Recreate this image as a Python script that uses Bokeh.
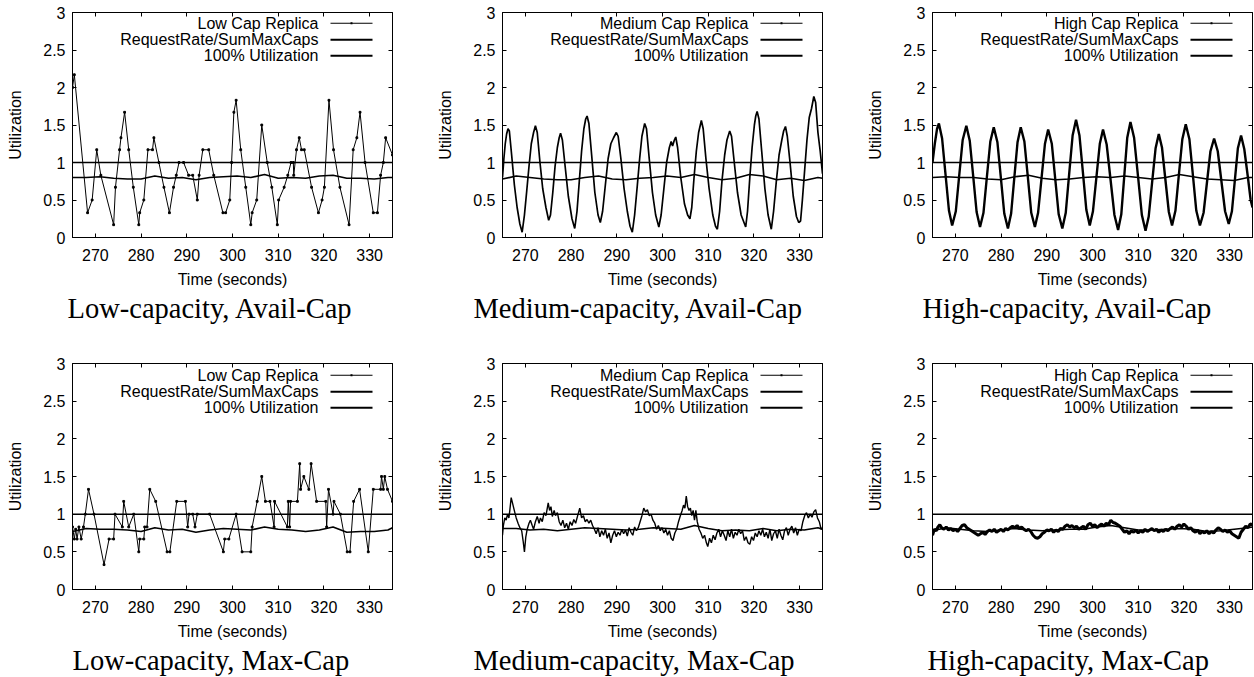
from bokeh.plotting import figure
from bokeh.models import (Range1d, LinearAxis, Label, BoxAnnotation, Span, Title,
                          NumeralTickFormatter, ColumnDataSource)
from bokeh.layouts import row, column
from bokeh.embed import file_html
from bokeh.resources import INLINE

# ---------------- data ----------------
x_ticks = [270, 280, 290, 300, 310, 320, 330]
y_ticks = [0, 0.5, 1, 1.5, 2, 2.5, 3]
x_lo, x_hi = 265, 335
y_lo, y_hi = 0, 3
full_util = 1.0

series_names = ["RequestRate/SumMaxCaps", "100% Utilization"]
replica_names = ["Low Cap Replica", "Medium Cap Replica", "High Cap Replica"]
captions_top = ["Low-capacity, Avail-Cap", "Medium-capacity, Avail-Cap", "High-capacity, Avail-Cap"]
captions_bottom = ["Low-capacity, Max-Cap", "Medium-capacity, Max-Cap", "High-capacity, Max-Cap"]

rr_t = [265, 268, 271, 274, 277, 280, 283, 286, 289, 292, 295, 298, 301,
        304, 307, 310, 313, 316, 319, 322, 325, 328, 331, 334, 335]
rr_low_avail = [0.80, 0.80, 0.81, 0.79, 0.78, 0.78, 0.82, 0.79, 0.80, 0.77, 0.80, 0.81, 0.82,
                0.80, 0.84, 0.79, 0.80, 0.79, 0.82, 0.83, 0.79, 0.79, 0.78, 0.80, 0.80]
rr_med_avail = [0.78, 0.82, 0.80, 0.78, 0.77, 0.77, 0.80, 0.82, 0.78, 0.77, 0.79, 0.80, 0.82,
                0.80, 0.84, 0.80, 0.77, 0.79, 0.84, 0.82, 0.77, 0.79, 0.76, 0.80, 0.79]
rr_high_avail = [0.80, 0.81, 0.80, 0.80, 0.78, 0.77, 0.81, 0.83, 0.79, 0.77, 0.78, 0.80, 0.81,
                 0.80, 0.82, 0.80, 0.78, 0.80, 0.84, 0.81, 0.78, 0.77, 0.76, 0.80, 0.80]
rr_low_max = [0.77, 0.81, 0.80, 0.80, 0.79, 0.77, 0.82, 0.79, 0.80, 0.76, 0.79, 0.81, 0.80,
              0.79, 0.83, 0.80, 0.79, 0.77, 0.79, 0.83, 0.76, 0.77, 0.77, 0.79, 0.82]
rr_med_max = [0.81, 0.81, 0.79, 0.80, 0.78, 0.80, 0.82, 0.81, 0.80, 0.79, 0.80, 0.82, 0.81,
              0.80, 0.85, 0.81, 0.78, 0.79, 0.78, 0.81, 0.78, 0.80, 0.79, 0.82, 0.80]
rr_high_max = [0.78, 0.82, 0.80, 0.78, 0.77, 0.79, 0.81, 0.79, 0.78, 0.79, 0.80, 0.80, 0.83,
               0.85, 0.82, 0.79, 0.79, 0.80, 0.81, 0.80, 0.77, 0.78, 0.80, 0.82, 0.83]

low_avail = [(265.0, 2.00), (265.4, 2.17), (268.3, 0.33), (269.3, 0.50), (270.3, 1.17), (271.2, 0.83),
             (274.0, 0.17), (274.4, 0.67), (275.3, 1.17), (275.6, 1.33), (276.4, 1.67), (277.3, 1.17),
             (278.3, 0.67), (279.5, 0.17), (279.7, 0.33), (280.6, 0.50), (281.5, 1.17), (282.5, 1.17),
             (282.8, 1.33), (283.9, 1.00), (285.0, 0.67), (286.2, 0.33), (287.1, 0.67), (287.7, 0.83),
             (288.3, 1.00), (289.3, 1.00), (290.4, 0.83), (291.3, 0.83), (292.3, 0.50), (292.7, 0.83),
             (293.5, 1.17), (294.8, 1.17), (295.9, 0.83), (297.9, 0.33), (298.5, 0.33), (299.4, 0.50),
             (299.8, 1.00), (300.3, 1.67), (300.8, 1.83), (301.8, 1.17), (302.9, 0.67), (304.0, 0.17),
             (304.3, 0.33), (305.3, 0.50), (306.4, 1.50), (307.6, 1.00), (308.6, 0.67), (309.8, 0.17),
             (310.1, 0.50), (311.3, 0.67), (312.1, 0.83), (312.8, 1.00), (313.3, 1.00), (313.4, 0.83),
             (314.0, 1.17), (314.6, 1.33), (315.1, 1.17), (315.7, 1.17), (317.3, 0.67), (318.8, 0.33),
             (319.6, 0.50), (320.1, 0.67), (321.1, 1.83), (322.1, 1.17), (323.5, 0.67), (325.5, 0.17),
             (326.4, 1.17), (327.2, 1.33), (327.9, 1.67), (329.0, 1.00), (330.8, 0.33), (331.7, 0.33),
             (332.4, 0.83), (333.0, 1.00), (333.5, 1.33), (335.0, 1.10)]

med_avail = [(265.0, 0.80), (265.3, 1.05), (265.6, 1.25), (265.9, 1.38), (266.2, 1.45), (266.5, 1.42),
             (267.0, 1.10), (267.6, 0.70), (268.2, 0.40), (268.8, 0.18), (269.3, 0.07), (269.8, 0.30),
             (270.3, 0.62), (270.8, 0.95), (271.3, 1.25), (271.8, 1.40), (272.2, 1.49), (272.6, 1.40),
             (273.2, 1.00), (273.8, 0.65), (274.5, 0.40), (275.1, 0.23), (275.5, 0.30), (276.0, 0.60),
             (276.5, 0.95), (277.0, 1.20), (277.4, 1.33), (277.7, 1.39), (278.1, 1.30), (278.7, 0.95),
             (279.4, 0.55), (280.2, 0.25), (280.8, 0.12), (281.3, 0.35), (281.8, 0.75), (282.3, 1.15),
             (282.8, 1.45), (283.2, 1.58), (283.5, 1.62), (283.9, 1.52), (284.5, 1.10), (285.2, 0.60),
             (285.9, 0.30), (286.4, 0.20), (286.9, 0.35), (287.5, 0.70), (288.1, 1.05), (288.7, 1.25),
             (289.3, 1.33), (289.9, 1.40), (290.3, 1.35), (290.9, 1.05), (291.6, 0.65), (292.3, 0.35),
             (292.9, 0.15), (293.4, 0.07), (293.9, 0.30), (294.5, 0.70), (295.0, 1.05), (295.5, 1.35),
             (296.1, 1.52), (296.5, 1.45), (297.1, 1.05), (297.8, 0.60), (298.5, 0.30), (299.2, 0.14),
             (299.7, 0.30), (300.3, 0.65), (300.9, 1.00), (301.5, 1.20), (301.9, 1.28), (302.2, 1.22),
             (302.6, 1.30), (302.9, 1.34), (303.3, 1.20), (304.0, 0.80), (304.8, 0.45), (305.5, 0.30),
             (306.0, 0.25), (306.4, 0.40), (306.9, 0.80), (307.4, 1.15), (307.9, 1.40), (308.5, 1.56),
             (308.9, 1.45), (309.5, 1.05), (310.2, 0.65), (311.0, 0.30), (311.6, 0.15), (312.0, 0.11),
             (312.5, 0.35), (313.0, 0.75), (313.6, 1.10), (314.1, 1.30), (314.7, 1.42), (315.1, 1.35),
             (315.7, 1.00), (316.4, 0.60), (317.2, 0.30), (318.2, 0.14), (318.6, 0.35), (319.1, 0.80),
             (319.6, 1.20), (320.1, 1.50), (320.4, 1.62), (320.7, 1.68), (321.1, 1.58), (321.7, 1.15),
             (322.4, 0.65), (323.1, 0.30), (323.8, 0.11), (324.3, 0.35), (324.9, 0.75), (325.5, 1.10),
             (326.1, 1.30), (326.5, 1.42), (326.9, 1.48), (327.3, 1.35), (327.9, 1.00), (328.6, 0.55),
             (329.3, 0.28), (329.8, 0.20), (330.2, 0.22), (330.6, 0.50), (331.1, 0.90), (331.6, 1.30),
             (332.1, 1.60), (332.6, 1.72), (333.1, 1.88), (333.5, 1.80), (334.0, 1.40), (334.5, 1.15),
             (335.0, 0.85)]

high_avail = [(265.0, 1.00), (265.5, 1.25), (266.0, 1.45), (266.4, 1.52),
              (267.1, 1.32), (267.85, 0.84), (268.6, 0.36), (269.3, 0.16),
              (270.1, 0.35), (270.85, 0.83), (271.6, 1.30), (272.4, 1.49),
              (273.15, 1.29), (273.9, 0.82), (274.65, 0.34), (275.4, 0.14),
              (276.15, 0.33), (276.9, 0.81), (277.65, 1.28), (278.4, 1.47),
              (279.2, 1.27), (279.95, 0.80), (280.7, 0.32), (281.5, 0.12),
              (282.2, 0.32), (282.9, 0.80), (283.6, 1.27), (284.3, 1.47),
              (285.1, 1.28), (285.85, 0.81), (286.6, 0.33), (287.4, 0.14),
              (288.1, 0.33), (288.85, 0.79), (289.6, 1.25), (290.3, 1.44),
              (291.1, 1.25), (291.85, 0.78), (292.6, 0.31), (293.4, 0.12),
              (294.15, 0.33), (294.9, 0.85), (295.65, 1.36), (296.4, 1.57),
              (297.15, 1.36), (297.9, 0.87), (298.65, 0.37), (299.4, 0.16),
              (300.1, 0.35), (300.85, 0.80), (301.6, 1.25), (302.3, 1.44),
              (303.1, 1.24), (303.95, 0.77), (304.8, 0.30), (305.6, 0.10),
              (306.3, 0.31), (306.95, 0.82), (307.6, 1.33), (308.3, 1.54),
              (309.1, 1.33), (309.95, 0.82), (310.8, 0.30), (311.6, 0.09),
              (312.3, 0.28), (313.05, 0.74), (313.8, 1.19), (314.5, 1.38),
              (315.2, 1.20), (315.95, 0.77), (316.7, 0.34), (317.4, 0.16),
              (318.15, 0.36), (318.9, 0.84), (319.65, 1.31), (320.4, 1.51),
              (321.2, 1.31), (321.95, 0.84), (322.7, 0.36), (323.5, 0.16),
              (324.3, 0.33), (325.05, 0.74), (325.8, 1.15), (326.6, 1.32),
              (327.4, 1.15), (328.2, 0.75), (329.0, 0.35), (329.8, 0.18),
              (330.5, 0.35), (331.15, 0.77), (331.8, 1.19), (332.5, 1.36),
              (333.2, 1.18), (334.0, 0.80), (334.6, 0.50), (335.0, 0.40)]

low_max = [(265.0, 0.83), (265.4, 0.67), (265.7, 0.80), (266.0, 0.67), (266.4, 0.83), (266.9, 0.67),
           (267.4, 0.83), (267.8, 1.00), (268.5, 1.33), (269.7, 1.00), (271.9, 0.33), (273.0, 0.67),
           (274.0, 0.67), (274.3, 1.00), (275.9, 0.83), (276.2, 1.17), (277.3, 0.83), (278.4, 1.00),
           (279.5, 0.50), (279.7, 0.67), (280.6, 0.67), (280.8, 0.83), (281.3, 0.83), (281.9, 1.33),
           (283.2, 1.17), (285.7, 0.50), (286.3, 0.50), (287.8, 1.17), (289.7, 1.17), (290.2, 0.83),
           (290.5, 1.00), (291.3, 1.00), (291.8, 0.83), (292.3, 1.00), (295.0, 1.00), (298.0, 0.50),
           (298.3, 0.67), (299.2, 0.67), (300.8, 1.00), (302.1, 0.50), (304.0, 0.50), (304.3, 0.83),
           (305.4, 1.17), (306.4, 1.50), (307.2, 1.17), (308.2, 1.17), (309.1, 0.83), (309.2, 1.17),
           (312.0, 0.83), (312.2, 1.17), (312.5, 0.83), (312.7, 1.17), (314.2, 1.17), (314.7, 1.67),
           (314.9, 1.33), (315.6, 1.50), (316.7, 1.33), (317.2, 1.67), (318.4, 1.17), (320.4, 1.17),
           (320.6, 0.83), (321.0, 1.33), (322.0, 1.00), (322.2, 1.17), (323.6, 1.00), (325.1, 0.50),
           (325.7, 0.50), (326.5, 1.17), (327.8, 1.33), (329.7, 0.50), (330.8, 1.33), (332.4, 1.33),
           (332.6, 1.50), (333.0, 1.33), (333.3, 1.50), (333.9, 1.33), (335.0, 1.17)]

med_max = [(265.0, 0.72), (265.2, 0.85), (265.5, 0.95), (265.8, 0.92), (266.1, 1.00), (266.4, 0.95),
           (266.6, 1.05), (266.9, 1.22), (267.3, 1.12), (267.7, 1.02), (268.0, 0.95), (268.4, 0.88),
           (268.8, 0.82), (269.2, 0.78), (269.5, 0.65), (269.8, 0.50), (270.1, 0.70), (270.4, 0.80),
           (270.8, 0.88), (271.1, 0.92), (271.5, 0.85), (271.8, 0.80), (272.2, 0.90), (272.6, 0.97),
           (273.0, 0.88), (273.3, 0.95), (273.7, 0.90), (274.1, 1.02), (274.5, 0.98), (274.8, 1.08),
           (275.0, 1.15), (275.3, 1.05), (275.6, 1.10), (275.9, 0.97), (276.3, 1.05), (276.6, 0.98),
           (277.0, 1.02), (277.4, 0.90), (277.8, 0.85), (278.2, 0.92), (278.6, 0.82), (279.0, 0.88),
           (279.4, 0.80), (279.8, 0.90), (280.2, 0.85), (280.6, 0.93), (281.0, 0.88), (281.4, 0.97),
           (281.9, 1.08), (282.3, 0.95), (282.7, 0.98), (283.1, 0.90), (283.5, 0.93), (283.9, 0.88),
           (284.3, 0.92), (284.7, 0.85), (285.1, 0.80), (285.5, 0.74), (285.9, 0.82), (286.3, 0.70),
           (286.7, 0.78), (287.1, 0.72), (287.5, 0.80), (287.9, 0.68), (288.3, 0.75), (288.7, 0.62),
           (289.1, 0.72), (289.5, 0.78), (289.9, 0.70), (290.3, 0.76), (290.7, 0.72), (291.1, 0.80),
           (291.5, 0.74), (291.9, 0.79), (292.3, 0.71), (292.7, 0.82), (293.1, 0.76), (293.5, 0.72),
           (293.9, 0.83), (294.3, 0.78), (294.7, 0.82), (295.1, 0.90), (295.5, 0.98), (295.9, 1.08),
           (296.3, 1.03), (296.7, 1.06), (297.1, 0.98), (297.5, 1.00), (297.9, 0.92), (298.3, 0.88),
           (298.7, 0.80), (299.1, 0.85), (299.5, 0.78), (299.9, 0.82), (300.3, 0.75), (300.7, 0.80),
           (301.1, 0.72), (301.5, 0.78), (301.9, 0.68), (302.3, 0.65), (302.7, 0.75), (303.1, 0.80),
           (303.5, 0.90), (303.9, 0.98), (304.3, 1.05), (304.6, 1.12), (304.9, 1.08), (305.2, 1.24),
           (305.5, 1.10), (305.8, 1.05), (306.1, 1.08), (306.4, 0.98), (306.7, 1.05), (307.0, 0.92),
           (307.3, 1.05), (307.6, 0.90), (308.0, 0.80), (308.4, 0.75), (308.8, 0.68), (309.2, 0.72),
           (309.6, 0.62), (309.9, 0.57), (310.3, 0.68), (310.7, 0.62), (311.1, 0.72), (311.5, 0.66),
           (311.9, 0.75), (312.3, 0.80), (312.7, 0.70), (313.1, 0.78), (313.5, 0.72), (313.9, 0.65),
           (314.3, 0.78), (314.7, 0.70), (315.1, 0.80), (315.5, 0.68), (315.9, 0.76), (316.3, 0.72),
           (316.7, 0.80), (317.1, 0.74), (317.5, 0.78), (317.9, 0.65), (318.3, 0.70), (318.7, 0.62),
           (319.1, 0.60), (319.5, 0.70), (319.9, 0.65), (320.3, 0.75), (320.7, 0.70), (321.1, 0.78),
           (321.5, 0.72), (321.9, 0.80), (322.3, 0.70), (322.7, 0.76), (323.1, 0.68), (323.5, 0.80),
           (323.9, 0.65), (324.3, 0.74), (324.7, 0.78), (325.1, 0.68), (325.5, 0.80), (325.9, 0.72),
           (326.3, 0.66), (326.7, 0.78), (327.1, 0.82), (327.5, 0.72), (327.9, 0.80), (328.3, 0.84),
           (328.7, 0.75), (329.1, 0.82), (329.5, 0.72), (329.9, 0.80), (330.3, 0.78), (330.7, 0.90),
           (331.1, 0.98), (331.5, 1.02), (331.9, 0.95), (332.3, 1.00), (332.7, 0.96), (333.1, 1.03),
           (333.5, 1.06), (333.9, 0.95), (334.3, 0.90), (334.7, 0.80), (335.0, 0.82)]

high_max = [(265.0, 0.72), (265.4, 0.80), (265.8, 0.78), (266.2, 0.83), (266.6, 0.86), (267.0, 0.82),
            (267.5, 0.80), (268.0, 0.83), (268.5, 0.79), (269.0, 0.81), (269.5, 0.78), (270.0, 0.80),
            (270.5, 0.77), (271.0, 0.81), (271.5, 0.85), (272.0, 0.86), (272.5, 0.82), (273.0, 0.80),
            (273.5, 0.78), (274.0, 0.76), (274.5, 0.74), (275.0, 0.72), (275.5, 0.74), (276.0, 0.76),
            (276.5, 0.73), (277.0, 0.77), (277.5, 0.79), (278.0, 0.77), (278.5, 0.80), (279.0, 0.76),
            (279.5, 0.78), (280.0, 0.80), (280.5, 0.77), (281.0, 0.81), (281.5, 0.79), (282.0, 0.82),
            (282.5, 0.84), (283.0, 0.82), (283.5, 0.85), (284.0, 0.81), (284.5, 0.83), (285.0, 0.80),
            (285.5, 0.78), (286.0, 0.80), (286.5, 0.77), (287.0, 0.72), (287.5, 0.69), (288.0, 0.68),
            (288.5, 0.70), (289.0, 0.74), (289.5, 0.76), (290.0, 0.79), (290.5, 0.78), (291.0, 0.80),
            (291.5, 0.76), (292.0, 0.79), (292.5, 0.77), (293.0, 0.81), (293.5, 0.80), (294.0, 0.84),
            (294.5, 0.86), (295.0, 0.83), (295.5, 0.85), (296.0, 0.82), (296.5, 0.84), (297.0, 0.80),
            (297.5, 0.82), (298.0, 0.84), (298.5, 0.80), (299.0, 0.86), (299.5, 0.88), (300.0, 0.84),
            (300.5, 0.86), (301.0, 0.82), (301.5, 0.85), (302.0, 0.87), (302.5, 0.84), (303.0, 0.88),
            (303.5, 0.86), (304.0, 0.92), (304.5, 0.89), (305.0, 0.88), (305.5, 0.86), (306.0, 0.84),
            (306.5, 0.80), (307.0, 0.76), (307.5, 0.78), (308.0, 0.74), (308.5, 0.78), (309.0, 0.76),
            (309.5, 0.79), (310.0, 0.75), (310.5, 0.78), (311.0, 0.76), (311.5, 0.80), (312.0, 0.77),
            (312.5, 0.79), (313.0, 0.81), (313.5, 0.78), (314.0, 0.80), (314.5, 0.76), (315.0, 0.79),
            (315.5, 0.77), (316.0, 0.80), (316.5, 0.78), (317.0, 0.81), (317.5, 0.83), (318.0, 0.80),
            (318.5, 0.84), (319.0, 0.86), (319.5, 0.83), (320.0, 0.87), (320.5, 0.84), (321.0, 0.80),
            (321.5, 0.82), (322.0, 0.78), (322.5, 0.76), (323.0, 0.79), (323.5, 0.74), (324.0, 0.77),
            (324.5, 0.75), (325.0, 0.78), (325.5, 0.74), (326.0, 0.77), (326.5, 0.75), (327.0, 0.79),
            (327.5, 0.82), (328.0, 0.80), (328.5, 0.77), (329.0, 0.79), (329.5, 0.76), (330.0, 0.78),
            (330.5, 0.74), (331.0, 0.72), (331.5, 0.70), (332.0, 0.68), (332.5, 0.76), (333.0, 0.80),
            (333.5, 0.84), (334.0, 0.82), (334.5, 0.87), (335.0, 0.86)]

# ---------------- layout / style ----------------
FIG_W = [430, 430, 394]
BORDER_L = [72, 72, 72]
BORDER_R = [38, 38, 2]
CAP_OFFSET_TOP = [-5, -29, -10]
CAP_OFFSET_BOTTOM = [0, -29, -5]
SANS = "Liberation Sans"
SERIF = "Liberation Serif"


def style_axis(ax, labels=True):
    ax.major_tick_in = 4
    ax.major_tick_out = 0
    ax.minor_tick_line_color = None
    ax.axis_line_color = "black"
    ax.major_tick_line_color = "black"
    if labels:
        ax.major_label_text_font = SANS
        ax.major_label_text_font_size = "16px"
        ax.major_label_text_color = "black"
        ax.axis_label_text_font = SANS
        ax.axis_label_text_font_size = "16px"
        ax.axis_label_text_font_style = "normal"
        ax.axis_label_text_color = "black"
    else:
        ax.major_label_text_font_size = "1px"
        ax.major_label_text_color = None
        ax.major_label_standoff = 0


def make_panel(col, top_row, pairs, rr_vals, rep_name, caption, rep_width, dots):
    if top_row:
        h, bt, bb, cap_off = 351, 12, 114, CAP_OFFSET_TOP[col]
    else:
        h, bt, bb, cap_off = 326, 12, 88, CAP_OFFSET_BOTTOM[col]
    p = figure(width=FIG_W[col], height=h,
               x_range=Range1d(x_lo, x_hi), y_range=Range1d(y_lo, y_hi),
               output_backend="svg", toolbar_location=None,
               min_border_left=BORDER_L[col], min_border_right=BORDER_R[col],
               min_border_top=bt, min_border_bottom=bb,
               x_axis_label="Time (seconds)", y_axis_label="Utilization")
    p.grid.visible = False
    p.outline_line_color = "black"
    p.outline_line_width = 1
    p.background_fill_color = "white"
    p.border_fill_color = "white"

    p.xaxis.ticker = x_ticks
    p.yaxis.ticker = y_ticks
    p.yaxis.formatter = NumeralTickFormatter(format="0.[0]")
    for ax in p.xaxis + p.yaxis:
        style_axis(ax)
    p.xaxis.major_label_standoff = 11
    p.xaxis.axis_label_standoff = 7
    p.yaxis.major_label_standoff = 7
    p.yaxis.axis_label_standoff = 16

    ra = LinearAxis(ticker=y_ticks)
    style_axis(ra, labels=False)
    p.add_layout(ra, "right")
    ta = LinearAxis(ticker=x_ticks)
    style_axis(ta, labels=False)
    p.add_layout(ta, "above")

    t, v = zip(*pairs)
    src = ColumnDataSource(dict(t=list(t), v=list(v)))
    p.line("t", "v", source=src, line_color="black", line_width=rep_width)
    if dots:
        p.scatter("t", "v", source=src, marker="square", size=1.8,
                  fill_color="black", line_color="black")
    p.line(rr_t, rr_vals, line_color="black", line_width=1.7)
    p.add_layout(Span(location=full_util, dimension="width",
                      line_color="black", line_width=1.5))

    # legend (gnuplot style: label right aligned, sample on the right)
    names = [rep_name] + series_names
    rows_y = [214.3, 197.7, 181.8]
    thick = [1.0, 2.0, 2.0]
    for name, yy, lw in zip(names, rows_y, thick):
        p.add_layout(Label(x=246, y=yy, x_units="screen", y_units="screen", text=name,
                           text_align="right", text_baseline="middle",
                           text_font=SANS, text_font_size="16px", text_color="black"))
        p.add_layout(BoxAnnotation(left=258, right=300, bottom=yy - lw / 2, top=yy + lw / 2,
                                   left_units="screen", right_units="screen",
                                   bottom_units="screen", top_units="screen",
                                   fill_color="black", fill_alpha=1.0, line_color=None))
    p.add_layout(BoxAnnotation(left=278, right=280, bottom=rows_y[0] - 1, top=rows_y[0] + 1,
                               left_units="screen", right_units="screen",
                               bottom_units="screen", top_units="screen",
                               fill_color="black", fill_alpha=1.0, line_color=None))

    # sub-figure caption
    p.add_layout(Title(text=caption, align="left", offset=cap_off, standoff=0,
                       text_font=SERIF, text_font_size="28.5px", text_font_style="normal",
                       text_color="black"), "below")
    return p


p1 = make_panel(0, True, low_avail, rr_low_avail, replica_names[0], captions_top[0], 1.0, True)
p2 = make_panel(1, True, med_avail, rr_med_avail, replica_names[1], captions_top[1], 1.7, False)
p3 = make_panel(2, True, high_avail, rr_high_avail, replica_names[2], captions_top[2], 2.4, False)
p4 = make_panel(0, False, low_max, rr_low_max, replica_names[0], captions_bottom[0], 1.0, True)
p5 = make_panel(1, False, med_max, rr_med_max, replica_names[1], captions_bottom[1], 1.4, False)
p6 = make_panel(2, False, high_max, rr_high_max, replica_names[2], captions_bottom[2], 3.0, False)

layout = column(row(p1, p2, p3), row(p4, p5, p6))
open("out.html", "w").write(file_html(layout, INLINE))
